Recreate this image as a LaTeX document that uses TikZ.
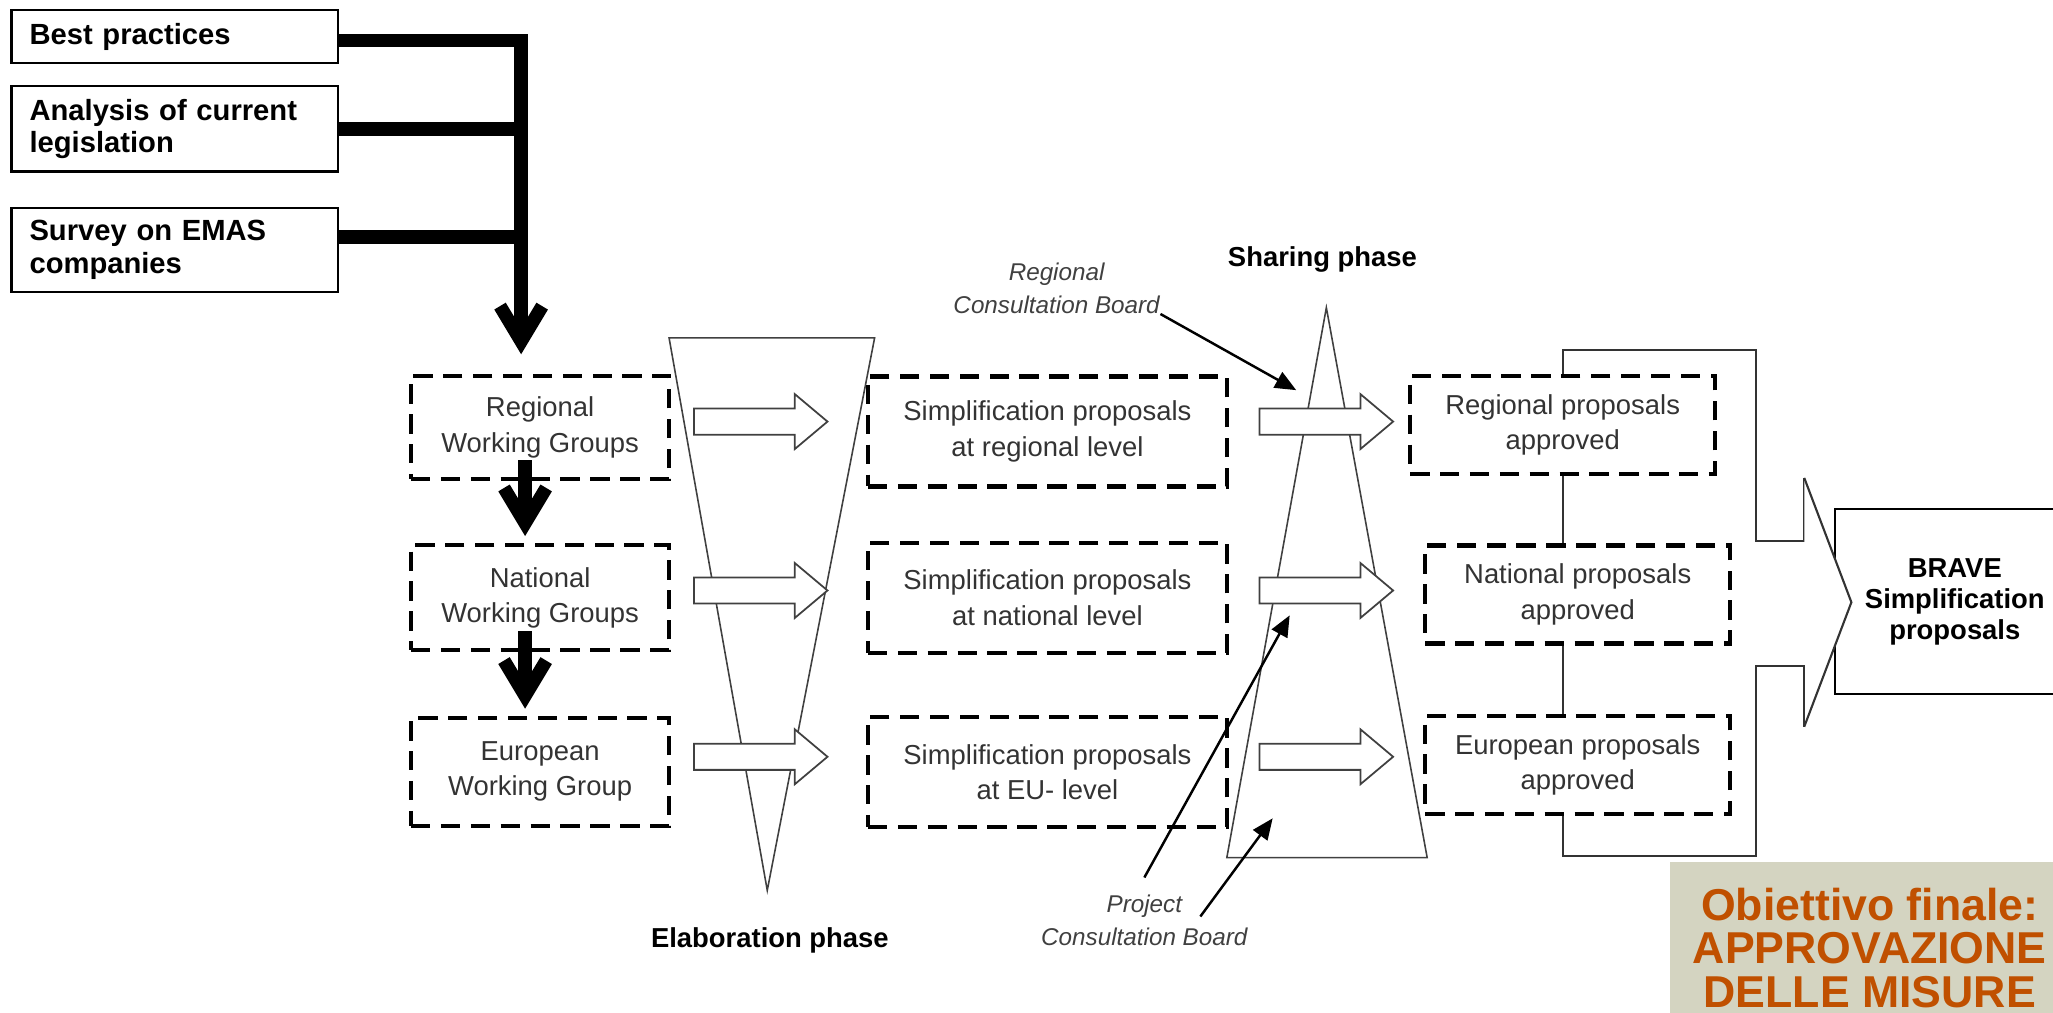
\documentclass[tikz,border=0pt]{standalone}
\usepackage{fontspec}
\setmainfont{Liberation Sans}
\usepackage{tikz}
\usetikzlibrary{arrows.meta}
\definecolor{goalbg}{RGB}{212,212,193}
\definecolor{goaltext}{RGB}{192,80,0}

\begin{document}
\begin{tikzpicture}[x=0.013093cm,y=-0.013093cm,
		srcbox/.style={draw,line width=0.6pt,anchor=west,align=left,inner xsep=0.18cm,text width=2.9cm,font=\bfseries\fontsize{8.3}{9.3}\selectfont},
		dashbox/.style={draw,line width=1.2pt,dash pattern=on 5.5pt off 3pt,align=center,text=black!80,font=\fontsize{7.8}{10}\selectfont},
		feed/.style={line width=3.8pt},
		feedarrow/.style={feed,-{Straight Barb[length=10pt,width=12pt]}},
		cone/.style={draw=black!75,line width=0.45pt},
		link/.style={draw=black!80,line width=0.6pt},
		phase/.style={font=\bfseries\fontsize{7.8}{9}\selectfont},
		board/.style={align=center,inner sep=0pt,text=black!75,font=\itshape\fontsize{6.9}{9.3}\selectfont},
		pointer/.style={line width=0.7pt,-{Triangle[length=6pt,width=5pt]}},
		blockarrow/.pic={\draw[line width=0.5pt,draw=black!75,fill=white] (0,-10) -- (77,-10) -- (77,-21) -- (102,0) -- (77,21) -- (77,10) -- (0,10) -- cycle;}
	]
	\path[use as bounding box,clip] (0,0) rectangle (1568,773);

	\draw[cone] (511,258) -- (668,258) -- (586,680) -- cycle;
	\draw[cone] (1013,235) -- (1090,655) -- (937,655) -- cycle;

	\node[srcbox,minimum height=0.524cm] (bp) at (8,28) {Best practices};
	\node[srcbox,minimum height=0.851cm] (an) at (8,98.5) {Analysis of current\\legislation};
	\node[srcbox,minimum height=0.838cm] (sv) at (8,191) {Survey on EMAS\\companies};

	\node[dashbox,minimum width=2.58cm,minimum height=1.03cm] (rwg) at (412.5,326.5) {Regional\\Working Groups};
	\node[dashbox,minimum width=2.58cm,minimum height=1.05cm] (nwg) at (412.5,456.5) {National\\Working Groups};
	\node[dashbox,minimum width=2.58cm,minimum height=1.08cm] (ewg) at (412.5,589.5) {European\\Working Group};

	\coordinate (hub) at (398,31);
	\draw[feedarrow] (bp.east |- hub) -- (hub) -- ([yshift=0.196cm]hub |- rwg.north);
	\draw[feed] (an.east) -- (an.east -| hub);
	\draw[feed] ([yshift=0.13cm]sv.east) -- ([yshift=0.13cm]sv.east -| hub);
	\draw[feedarrow] ([xshift=-0.15cm,yshift=0.21cm]rwg.south) -- ([xshift=-0.15cm,yshift=0.07cm]nwg.north);
	\draw[feedarrow] ([xshift=-0.15cm,yshift=0.21cm]nwg.south) -- ([xshift=-0.15cm,yshift=0.07cm]ewg.north);

	\node[dashbox,minimum width=3.59cm,minimum height=1.1cm] (rsp) at (800,329.5) {Simplification proposals\\at regional level};
	\node[dashbox,minimum width=3.59cm,minimum height=1.1cm] (nsp) at (800,456.5) {Simplification proposals\\at national level};
	\node[dashbox,minimum width=3.59cm,minimum height=1.1cm] (esp) at (800,589.5) {Simplification proposals\\at EU- level};

	\node[dashbox,minimum width=3.05cm,minimum height=0.98cm] (rap) at (1193.5,324.5) {Regional proposals\\approved};
	\node[dashbox,minimum width=3.05cm,minimum height=0.98cm] (nap) at (1205,454) {National proposals\\approved};
	\node[dashbox,minimum width=3.05cm,minimum height=0.98cm] (eap) at (1205,584) {European proposals\\approved};
	\draw[link] (rap.south) -- (rap.south |- nap.north);
	\draw[link] (nap.south -| rap.south) -- (eap.north -| rap.south);

	\node[fill=goalbg,minimum width=4cm,minimum height=1.72cm,align=center,text=goaltext,font=\bfseries\fontsize{12.7}{12.3}\selectfont] (goal) at (1428,724) {Obiettivo finale:\\APPROVAZIONE\\DELLE MISURE};

	\node[draw,line width=0.6pt,minimum width=2.4cm,minimum height=1.846cm,align=center,font=\bfseries\fontsize{7.8}{8.8}\selectfont] (brave) at (1493,459.5) {BRAVE\\Simplification\\proposals};
	\draw[link] (rap.north) |- (1341,267) -- (1341,413) -- (1378,413) -- (1378,365);
	\draw[link,fill=white] (1378,365) -- (1414,460) -- (1378,555);
	\draw[link] (1378,555) -- (1378,509) -- (1341,509) -- (1341,654) -| (eap.south -| rap.north);

	\foreach \y in {322,451,578}{
		\pic at (530,\y) {blockarrow};
		\pic at (962,\y) {blockarrow};
	}

	\node[phase] (shar) at (1010,198) {Sharing phase};
	\node[phase] (elab) at (588,718) {Elaboration phase};
	\node[board] (rcb) at (807,220) {Regional\\Consultation Board};
	\node[board] (pcb) at (874,703) {Project\\Consultation Board};
	\coordinate (rcbtip) at (990,298);
	\coordinate (pcbtip1) at (985,470);
	\coordinate (pcbtip2) at (972,625);
	\draw[pointer] (rcb.south east) -- (rcbtip);
	\draw[pointer] ([yshift=0.17cm]pcb.north) -- (pcbtip1);
	\draw[pointer] ([xshift=0.56cm,yshift=-0.22cm]pcb.north) -- (pcbtip2);
\end{tikzpicture}
\end{document}
